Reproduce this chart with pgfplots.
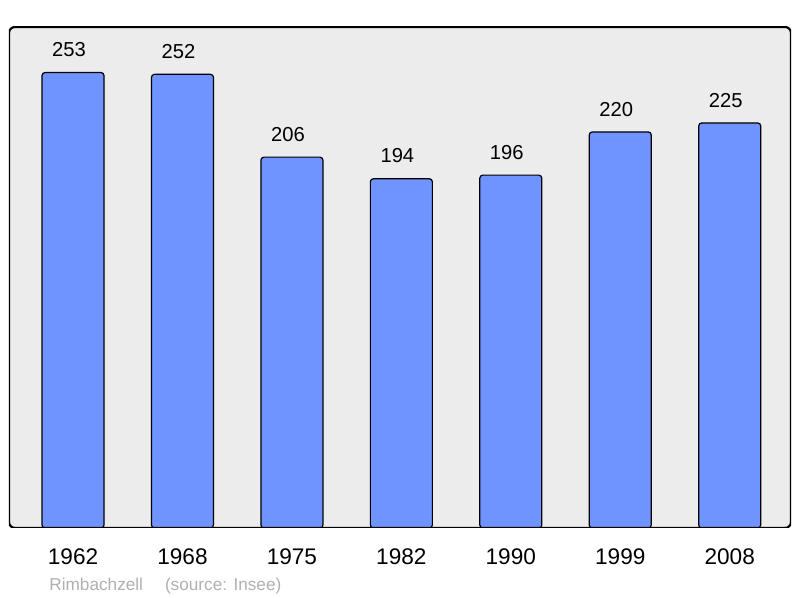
\documentclass[border=0pt]{standalone}
\usepackage{fontspec}
\setmainfont{Liberation Sans}
\usepackage{pgfplots}
\pgfplotsset{compat=1.18}
\usetikzlibrary{calc}
\definecolor{barblue}{HTML}{7094FF}
\definecolor{panel}{HTML}{ECECEC}
\definecolor{footgray}{HTML}{B0B0B0}

\begin{document}
\begin{tikzpicture}[x=0.5pt,y=0.5pt]
\begin{axis}[
  scale only axis,width=391pt,height=250.5pt,
  ybar,bar width=31pt,
  xmin=-0.585,xmax=6.56,ymin=0,ymax=278.3,
  xtick={0,1,2,3,4,5,6},
  xticklabels={1962,1968,1975,1982,1990,1999,2008},
  ytick=\empty,
  major tick length=0pt,
  xticklabel style={font=\fontsize{11.3}{13}\selectfont,inner sep=0pt,anchor=north,yshift=-10pt},
  axis line style={draw=none},
  axis background/.style={fill=panel,rounded corners=3pt},
  nodes near coords,
  every node near coord/.append style={font=\fontsize{10.1}{12}\selectfont,
    inner sep=0pt,anchor=south,yshift=7.5pt,xshift=-2pt,
    /pgf/number format/assume math mode=true},
]
\addplot[fill=barblue,draw=black,line width=0.6pt,rounded corners=1.5pt]
  coordinates {(0,253) (1,252) (2,206) (3,194) (4,196) (5,220) (6,225)};
\draw[line width=1.1pt,rounded corners=3pt]
  (rel axis cs:0,0) rectangle (rel axis cs:1,1);
\coordinate (ll) at (rel axis cs:0,0);
\end{axis}
\node[anchor=base west,text=footgray,font=\fontsize{8.6}{10}\selectfont,inner sep=0pt]
  at ($(ll)+(40,-63)$) {Rimbachzell\quad\ (source: Insee)};
\pgfresetboundingbox
\path[use as bounding box] ($(ll)+(-9,-70)$) rectangle ++(800,598);
\end{tikzpicture}
\end{document}
